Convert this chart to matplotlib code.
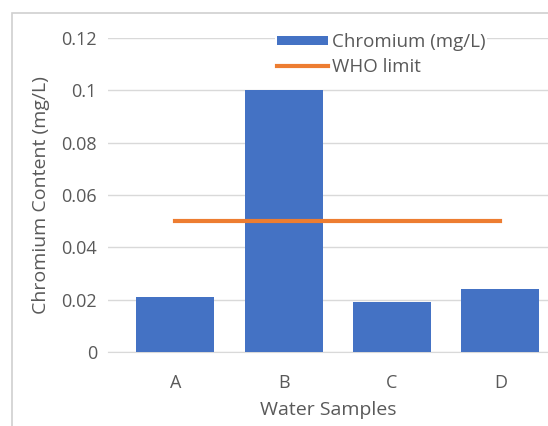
import matplotlib

matplotlib.use("Agg")
import matplotlib.pyplot as plt
from matplotlib.patches import Rectangle

BLUE, ORANGE, GREY = "#4472C4", "#ED7D31", "#595959"

samples = ["A", "B", "C", "D"]
chromium = [0.021, 0.100, 0.019, 0.024]
who_limit = [0.05, 0.05, 0.05, 0.05]
yticks = [0, 0.02, 0.04, 0.06, 0.08, 0.1, 0.12]
ytick_labels = ["0", "0.02", "0.04", "0.06", "0.08", "0.1", "0.12"]

plt.rcParams["font.family"] = ["Open Sans", "DejaVu Sans"]

fig = plt.figure(figsize=(5.48, 4.26), dpi=100)
# light chart frame (only left and top edges are visible in the crop)
fig.patches.append(Rectangle((12 / 548, -10 / 426), 600 / 548, 423 / 426,
                             transform=fig.transFigure, fill=False,
                             edgecolor="#D0D0D0", lw=1.2))

ax = fig.add_axes([108 / 548, 74 / 426, 440 / 548, 314 / 426])
x = range(len(samples))
bars = ax.bar(x, chromium, width=0.72, color=BLUE, label="Chromium (mg/L)", zorder=3)
(line,) = ax.plot(x, who_limit, color=ORANGE, lw=3, label="WHO limit", zorder=4)

ax.set_xlim(-0.62, 3.44)
ax.set_ylim(0, 0.12)
ax.set_yticks(yticks)
ax.set_yticklabels(ytick_labels)
ax.set_xticks(list(x))
ax.set_xticklabels(samples)
ax.grid(axis="y", color="#D9D9D9", lw=1, zorder=0)
for s in ["top", "right", "left"]:
    ax.spines[s].set_visible(False)
ax.spines["bottom"].set_color("#D9D9D9")
ax.tick_params(length=0, colors=GREY, labelsize=13)
ax.tick_params(axis="y", pad=8)
ax.tick_params(axis="x", pad=16)
ax.set_xlabel("Water Samples", color=GREY, fontsize=14, labelpad=6)
ax.set_ylabel("Chromium Content (mg/L)", color=GREY, fontsize=14, labelpad=8)

leg = fig.legend([bars, line], ["Chromium (mg/L)", "WHO limit"],
                 loc="upper left", bbox_to_anchor=(266 / 548, 1 - 22 / 426),
                 frameon=True, fontsize=13.5, handlelength=2.7, handleheight=0.4,
                 handletextpad=0.2, labelspacing=0.35, borderpad=0.1)
leg.get_frame().set_edgecolor("none")
leg.get_frame().set_facecolor("white")
leg.get_frame().set_alpha(1)
for t in leg.get_texts():
    t.set_color(GREY)

fig.savefig("out.png", dpi=100)
